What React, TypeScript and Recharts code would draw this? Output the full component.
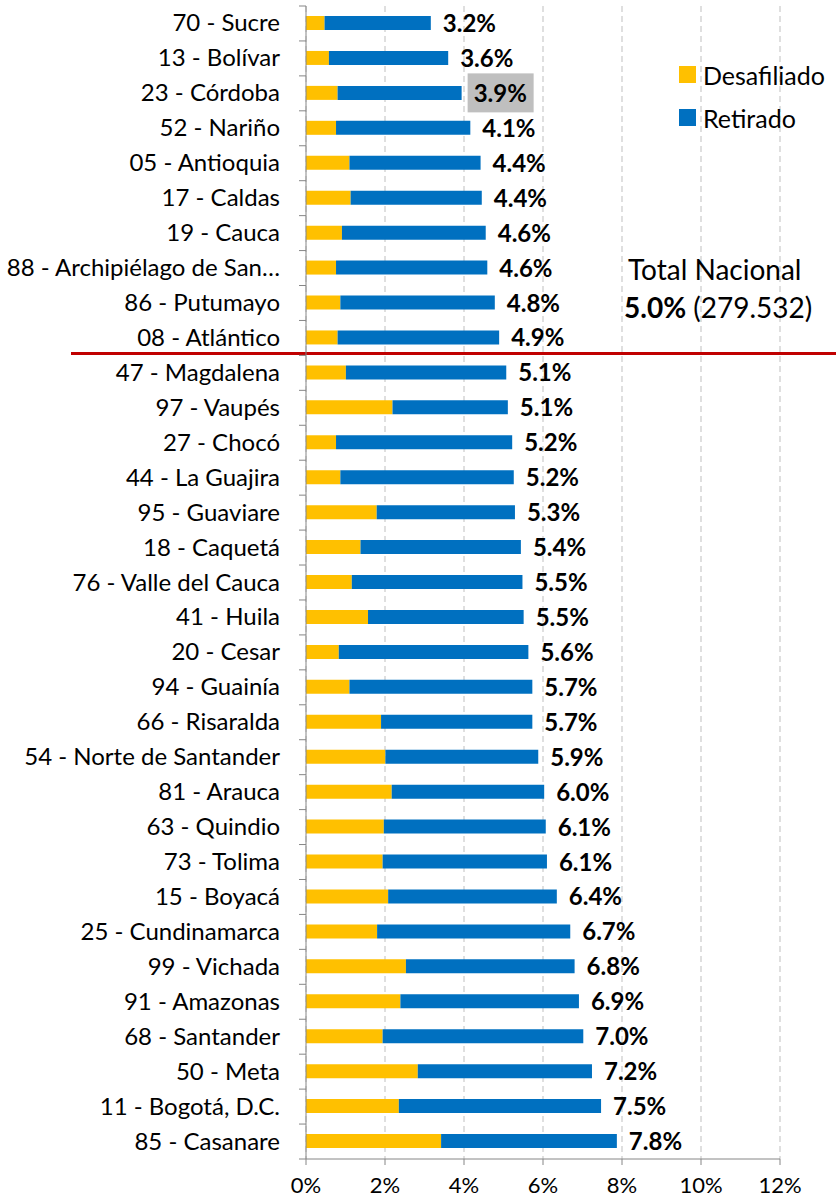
import React from 'react';
import {
  BarChart,
  Bar,
  XAxis,
  YAxis,
  CartesianGrid,
  Legend,
  LabelList,
  ReferenceLine,
} from 'recharts';

const departamentos = [
  '70 - Sucre',
  '13 - Bolívar',
  '23 - Córdoba',
  '52 - Nariño',
  '05 - Antioquia',
  '17 - Caldas',
  '19 - Cauca',
  '88 - Archipiélago de San…',
  '86 - Putumayo',
  '08 - Atlántico',
  '47 - Magdalena',
  '97 - Vaupés',
  '27 - Chocó',
  '44 - La Guajira',
  '95 - Guaviare',
  '18 - Caquetá',
  '76 - Valle del Cauca',
  '41 - Huila',
  '20 - Cesar',
  '94 - Guainía',
  '66 - Risaralda',
  '54 - Norte de Santander',
  '81 - Arauca',
  '63 - Quindio',
  '73 - Tolima',
  '15 - Boyacá',
  '25 - Cundinamarca',
  '99 - Vichada',
  '91 - Amazonas',
  '68 - Santander',
  '50 - Meta',
  '11 - Bogotá, D.C.',
  '85 - Casanare',
];

const desafiliado = [
  0.47, 0.58, 0.8, 0.76, 1.1, 1.13, 0.91, 0.76, 0.87, 0.8, 1.01, 2.19, 0.76,
  0.87, 1.79, 1.38, 1.16, 1.57, 0.83, 1.1, 1.9, 2.01, 2.17, 1.97, 1.94, 2.08,
  1.8, 2.53, 2.39, 1.94, 2.83, 2.35, 3.42,
];

const retirado = [
  2.69, 3.02, 3.14, 3.4, 3.32, 3.32, 3.64, 3.83, 3.91, 4.09, 4.06, 2.92, 4.46,
  4.39, 3.5, 4.06, 4.32, 3.94, 4.8, 4.63, 3.83, 3.87, 3.86, 4.1, 4.16, 4.27,
  4.89, 4.27, 4.52, 5.08, 4.41, 5.12, 4.45,
];

const totalLabels = [
  '3.2%', '3.6%', '3.9%', '4.1%', '4.4%', '4.4%', '4.6%', '4.6%', '4.8%',
  '4.9%', '5.1%', '5.1%', '5.2%', '5.2%', '5.3%', '5.4%', '5.5%', '5.5%',
  '5.6%', '5.7%', '5.7%', '5.9%', '6.0%', '6.1%', '6.1%', '6.4%', '6.7%',
  '6.8%', '6.9%', '7.0%', '7.2%', '7.5%', '7.8%',
];

const xTicks = [0, 2, 4, 6, 8, 10, 12];
const highlighted = '23 - Córdoba';
const corte = '08 - Atlántico';

const WIDTH = 836;
const HEIGHT = 1201;
const MARGIN = { top: 6, right: 56, bottom: 0, left: 0 };
const X_AXIS_HEIGHT = 42;
const BAND = (HEIGHT - MARGIN.top - X_AXIS_HEIGHT) / departamentos.length;
const FONT = 'Lato, "Open Sans", sans-serif';
const AXIS_COLOR = '#868686';

const chartData = departamentos.map((name, i) => ({
  name,
  desafiliado: desafiliado[i],
  retirado: retirado[i],
  label: totalLabels[i],
}));

function CategoryTick(props: any) {
  const { x, y, payload, index } = props;
  const lx1 = x + 19;
  const lx2 = x + 26;
  return (
    <g>
      <text
        x={x}
        y={y}
        dy={8}
        textAnchor="end"
        fontFamily={FONT}
        fontSize={24}
        fill="#000"
      >
        {payload.value}
      </text>
      <line x1={lx1} x2={lx2} y1={y + BAND / 2} y2={y + BAND / 2} stroke={AXIS_COLOR} />
      {index === 0 && (
        <line x1={lx1} x2={lx2} y1={y - BAND / 2} y2={y - BAND / 2} stroke={AXIS_COLOR} />
      )}
    </g>
  );
}

function TotalLabel(props: any) {
  const { x, y, width, height, value, index } = props;
  const tx = x + width + 12;
  const cy = y + height / 2;
  const isHighlight = departamentos[index] === highlighted;
  return (
    <g>
      {isHighlight && (
        <rect x={tx - 6} y={cy - 19.5} width={66} height={39} fill="#BFBFBF" />
      )}
      <text
        x={tx}
        y={cy}
        dy={9}
        fontFamily={FONT}
        fontWeight="bold"
        fontSize={24}
        fill="#000"
      >
        {value}
      </text>
    </g>
  );
}

function LegendContent(props: any) {
  const { payload } = props;
  return (
    <div style={{ fontFamily: FONT, fontSize: 25, color: '#000' }}>
      {(payload || []).map((item: any) => (
        <div
          key={item.value}
          style={{ display: 'flex', alignItems: 'center', height: 43 }}
        >
          <span
            style={{
              display: 'inline-block',
              width: 17,
              height: 17,
              background: item.color,
              marginRight: 7,
            }}
          />
          <span>{item.value}</span>
        </div>
      ))}
    </div>
  );
}

function CorteLine(props: any) {
  const { y1 } = props;
  const y = y1 + BAND / 2 - 2;
  return <line x1={71} x2={WIDTH} y1={y} y2={y} stroke="#C00000" strokeWidth={3} />;
}

export default function App() {
  return (
    <div style={{ position: 'absolute', left: 0, top: 0, width: WIDTH, height: HEIGHT, background: '#fff' }}>
      <BarChart
        width={WIDTH}
        height={HEIGHT}
        data={chartData}
        layout="vertical"
        margin={MARGIN}
        barSize={14}
      >
        <CartesianGrid
          horizontal={false}
          stroke="#BFBFBF"
          strokeDasharray="6 4"
        />
        <XAxis
          type="number"
          domain={[0, 12]}
          ticks={xTicks}
          height={X_AXIS_HEIGHT}
          tickFormatter={(v: number) => `${v}%`}
          tick={{ fontFamily: FONT, fontSize: 22, fill: '#000' }}
          tickSize={6}
          tickMargin={12}
          axisLine={{ stroke: AXIS_COLOR }}
          tickLine={{ stroke: AXIS_COLOR }}
          interval={0}
        />
        <YAxis
          type="category"
          dataKey="name"
          width={306}
          tick={<CategoryTick />}
          tickLine={false}
          tickSize={7}
          tickMargin={19}
          axisLine={{ stroke: AXIS_COLOR }}
          interval={0}
        />
        <Legend
          layout="vertical"
          align="center"
          verticalAlign="middle"
          wrapperStyle={{ top: 53, left: 679, width: 'auto' }}
          content={<LegendContent />}
        />
        <Bar
          dataKey="desafiliado"
          name="Desafiliado"
          stackId="a"
          fill="#FFC000"
          isAnimationActive={false}
        />
        <Bar
          dataKey="retirado"
          name="Retirado"
          stackId="a"
          fill="#0070C0"
          isAnimationActive={false}
        >
          <LabelList dataKey="label" content={<TotalLabel />} />
        </Bar>
        <ReferenceLine y={corte} ifOverflow="visible" shape={<CorteLine />} />
      </BarChart>
      <div
        style={{
          position: 'absolute',
          left: 628,
          top: 250,
          fontFamily: FONT,
          fontSize: 28,
          lineHeight: '38px',
          color: '#000',
          whiteSpace: 'nowrap',
        }}
      >
        <div>Total Nacional</div>
        <div style={{ marginLeft: -4 }}>
          <b>5.0%</b> (279.532)
        </div>
      </div>
    </div>
  );
}
